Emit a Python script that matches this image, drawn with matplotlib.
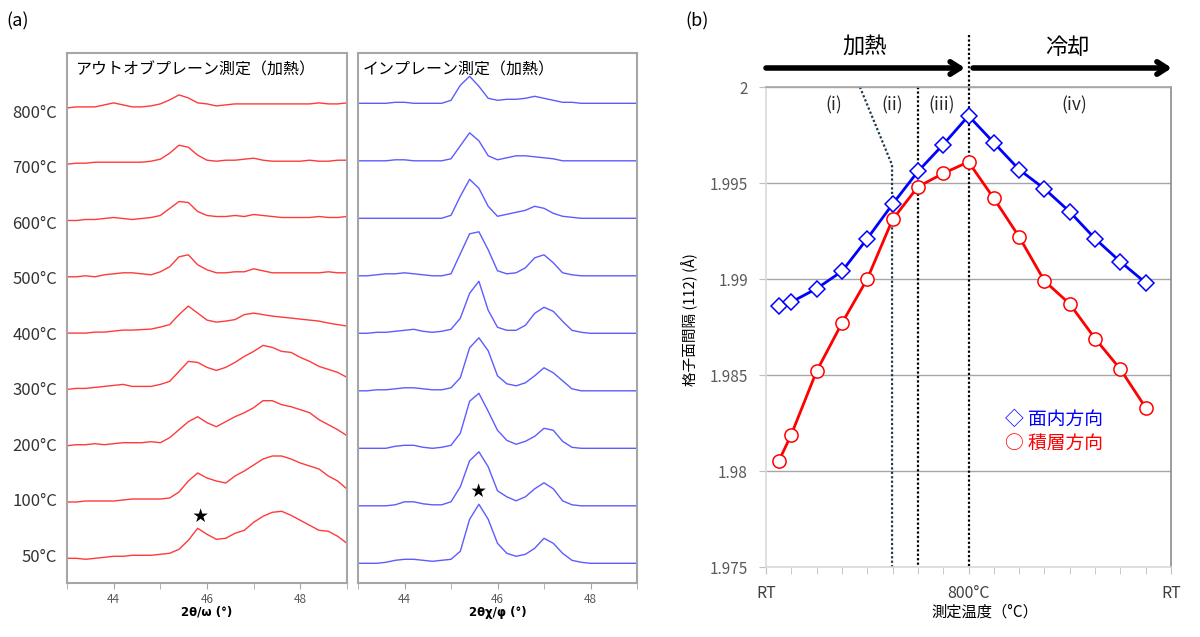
import numpy as np
import matplotlib.pyplot as plt
import matplotlib.transforms as mtrans
from matplotlib.ticker import FixedLocator, MultipleLocator, FuncFormatter

plt.rcParams['font.family'] = ['Noto Sans CJK JP', 'DejaVu Sans']

# ---- (a) XRD traces, heights (a.u.) ----
two_theta = np.round(np.arange(43.0, 49.01, 0.2), 1)
temps = ['50°C', '100°C', '200°C', '300°C', '400°C', '500°C', '600°C', '700°C', '800°C']

# out-of-plane (red)
oop_50 = [0, 0, -1, 0, 1, 2, 2, 3, 3, 3, 4, 5, 9, 18, 30, 24, 19, 20, 25, 28, 36, 42, 46, 47, 43, 38, 33, 28, 27, 22, 15]
oop_100 = [0, 0, 1, 1, 1, 1, 2, 3, 3, 3, 3, 4, 10, 21, 29, 24, 21, 19, 26, 31, 37, 43, 46, 46, 43, 39, 36, 33, 26, 21, 13]
oop_200 = [0, 1, 1, 2, 1, 2, 3, 3, 3, 4, 3, 8, 16, 24, 29, 23, 19, 24, 29, 33, 38, 45, 45, 41, 39, 36, 33, 26, 21, 16, 10]
oop_300 = [0, 1, 1, 2, 3, 4, 5, 3, 3, 3, 5, 8, 18, 28, 27, 22, 19, 22, 27, 33, 38, 44, 42, 38, 37, 32, 28, 23, 20, 17, 12]
oop_400 = [0, 0, 0, 1, 1, 2, 3, 3, 3.5, 4, 6, 8.5, 18.5, 27, 20, 13, 11, 12, 13.5, 18.5, 20, 18.5, 17, 16, 15, 14, 13, 12, 10, 8.5, 7]
oop_500 = [0, 0, 1, 0, 2, 3, 4, 4, 3, 2, 5, 10, 20, 22, 12, 7, 4, 4, 5, 5, 8, 6, 4, 4, 4, 4, 4, 4, 5, 4, 4]
oop_600 = [0, 0, 1, 1, 2, 3, 2, 1, 2, 3, 5, 12, 19, 18, 9, 5, 4, 4, 5, 4, 6, 5, 4, 3, 3, 3, 3, 4, 3, 3, 4]
oop_700 = [0, 1, 1, 2, 2, 2, 2, 2, 2, 3, 5, 11, 19, 17, 9, 4, 3, 4, 4, 5, 6, 4, 3, 3, 3, 3, 4, 3, 3, 4, 4]
oop_800 = [0, 1, 1, 1, 3, 5, 3, 1, 1, 2, 4, 8, 13, 10, 5, 4, 2, 3, 4, 4, 4, 4, 4, 4, 4, 4, 4, 5, 4, 4, 5]

# in-plane (blue)
ip_50 = [0, 0, 0, 1, 3, 4, 4, 3, 2, 3, 4, 12, 44, 59, 44, 20, 10, 7, 9, 15, 25, 20, 10, 3, 1, 0, 0, 0, 0, 0, 0]
ip_100 = [0, 0, 0, 0, 1, 4, 4, 2, 1, 1, 4, 19, 45, 54, 39, 15, 9, 5, 9, 17, 23, 17, 5, 1, 0, 0, 0, 0, 0, 0, 0]
ip_200 = [0, 0, 0, 0, 2, 3, 3, 1, 0, 1, 3, 15, 47, 55, 37, 18, 8, 4, 7, 12, 20, 18, 7, 1, 0, 0, 0, 0, 0, 0, 0]
ip_300 = [0, 0, 1, 1, 2, 3, 3, 2, 1, 1, 3, 13, 43, 53, 40, 15, 7, 5, 8, 15, 23, 18, 10, 2, 0, 0, 0, 0, 0, 0, 0]
ip_400 = [0, 0, 1, 1, 2, 3, 4, 2, 1, 2, 4, 15, 40, 52, 23, 6, 3, 3, 8, 20, 26, 22, 12, 3, 1, 0, 0, 0, 0, 0, 0]
ip_500 = [0, 0, 1, 2, 2, 3, 2, 1, 0, 0, 2, 22, 42, 44, 26, 5, 2, 3, 8, 18, 21, 13, 3, 1, 0, 0, 0, 0, 0, 0, 0]
ip_600 = [0, 0, 0, 0, 0, 0, 0, 0, 0, 0, 3, 22, 39, 30, 12, 2, 4, 6, 8, 12, 10, 5, 2, 1, 0, 0, 0, 0, 0, 0, 0]
ip_700 = [0, 0, 0, 0, 1, 1, 0, 0, 0, 0, 2, 15, 28, 20, 5, 1, 3, 5, 5, 4, 3, 2, 0, 0, 0, 0, 0, 0, 0, 0, 0]
ip_800 = [0, 0, 0, 0, 1, 1, 0, 0, 0, 0, 3, 18, 27, 17, 5, 3, 4, 4, 5, 7, 5, 3, 1, 1, 0, 0, 0, 0, 0, 0, 0]

oop_traces = [oop_50, oop_100, oop_200, oop_300, oop_400, oop_500, oop_600, oop_700, oop_800]
ip_traces = [ip_50, ip_100, ip_200, ip_300, ip_400, ip_500, ip_600, ip_700, ip_800]

# ---- (b) lattice spacing d(112) ----
heat_T = [50, 100, 200, 300, 400, 500, 600, 700, 800]
cool_T = [700, 600, 500, 400, 300, 200, 100]
d_inplane_heat = [1.9886, 1.9888, 1.9895, 1.9904, 1.9921, 1.9939, 1.9956, 1.9970, 1.9985]
d_inplane_cool = [1.9971, 1.9957, 1.9947, 1.9935, 1.9921, 1.9909, 1.9898]
d_stack_heat = [1.9805, 1.9819, 1.9852, 1.9877, 1.9900, 1.9931, 1.9948, 1.9955, 1.9961]
d_stack_cool = [1.9942, 1.9922, 1.9899, 1.9887, 1.9869, 1.9853, 1.9833]

W, H = 1200, 637
fig = plt.figure(figsize=(12, 6.37), dpi=100)

def box(px_l, px_t, px_w, px_h):
    return [px_l / W, 1 - (px_t + px_h) / H, px_w / W, px_h / H]

box_col = '#a6a6a6'

def xrd_panel(ax, traces, step, color, title, xlabel, ylo, yhi):
    for i, h in enumerate(traces):
        ax.plot(two_theta, np.array(h) + i * step, color=color, lw=1.0)
    ax.set_xlim(43, 49)
    ax.set_ylim(ylo, yhi)
    ax.set_yticks([])
    ax.xaxis.set_major_locator(FixedLocator([44, 46, 48]))
    ax.xaxis.set_minor_locator(MultipleLocator(1))
    ax.tick_params(axis='x', which='both', direction='out', length=4, color=box_col,
                   labelsize=8.5, labelcolor='#595959', pad=3)
    for s in ax.spines.values():
        s.set_color(box_col)
        s.set_linewidth(1.5)
    ax.set_xlabel(xlabel, fontsize=8.5, fontweight='bold', labelpad=0, family=['DejaVu Sans'])
    ax.text(0.03, 0.968, title, transform=ax.transAxes, fontsize=11.5, va='center', ha='left')

ax1 = fig.add_axes(box(67, 53, 280, 530))
xrd_panel(ax1, oop_traces, 56.3, '#ff3a3a', 'アウトオブプレーン測定（加熱）', '2θ/ω (°)', -24.7, 505.3)
ax2 = fig.add_axes(box(358, 53, 279, 530))
xrd_panel(ax2, ip_traces, 57.5, '#5c5cff', 'インプレーン測定（加熱）', '2θχ/φ (°)', -19.7, 510.3)
ax2.texts[-1].set_x(0.015)

trans = mtrans.blended_transform_factory(ax1.transAxes, ax1.transData)
for i, t in enumerate(temps):
    ax1.text(-0.035, i * 55.5 + 1, t, transform=trans, ha='right', va='center',
             fontsize=12, color='#333333')

# stars marking the substrate peak
ax1.text(45.86, 41.6, '★', ha='center', va='center', fontsize=11, color='black')
ax2.text(45.59, 71.6, '★', ha='center', va='center', fontsize=11, color='black')

fig.text(18 / W, 1 - 21 / H, '(a)', fontsize=13, ha='center', va='center')
fig.text(697 / W, 1 - 21 / H, '(b)', fontsize=13, ha='center', va='center')

# ---- panel (b) ----
axb = fig.add_axes(box(766, 87, 405, 480))
x_pos = [t / 100 for t in heat_T] + [16 - t / 100 for t in cool_T]
d_in = d_inplane_heat + d_inplane_cool
d_st = d_stack_heat + d_stack_cool

axb.set_xlim(0, 16)
axb.set_ylim(1.975, 2.0)
axb.yaxis.set_major_locator(MultipleLocator(0.005))
axb.yaxis.set_major_formatter(FuncFormatter(lambda v, p: '%g' % round(v, 3)))
axb.grid(axis='y', color='#a6a6a6', lw=1.0, zorder=0)
axb.set_xticks([0, 8, 16])
axb.set_xticklabels(['RT', '800°C', 'RT'])
axb.xaxis.set_minor_locator(MultipleLocator(1))
axb.tick_params(axis='x', which='both', length=5, color='#bfbfbf', labelsize=11.5,
                labelcolor='#404040', pad=8)
axb.tick_params(axis='y', length=5, color='#bfbfbf', labelsize=11, labelcolor='#595959', pad=8)
axb.spines['left'].set_color('#d9d9d9')
axb.spines['bottom'].set_color('#d9d9d9')
axb.spines['right'].set_color('#8c8c8c')
axb.spines['top'].set_color('#a6a6a6')
for s in axb.spines.values():
    s.set_linewidth(1.2)

# phase boundaries
dot = (0, (1, 1))
axb.plot([3.71, 4.98, 4.98], [2.0, 1.99594, 1.975], color='#1f3a4d', lw=1.6, ls=dot, zorder=2)
axb.plot([6.0, 6.0], [2.0, 1.975], color='black', lw=1.6, ls=dot, zorder=2)
axb.plot([8.0, 8.0], [2.0027, 1.975], color='black', lw=1.6, ls=dot, zorder=2, clip_on=False)

axb.plot(x_pos, d_in, color='#0000ff', lw=2, marker='D', ms=8, mfc='white',
         mec='#0000ff', mew=1.1, zorder=3)
axb.plot(x_pos, d_st, color='#ff0000', lw=2, marker='o', ms=9.5, mfc='white',
         mec='#ff0000', mew=1.1, zorder=3)

# arrows and labels
ya = 2.00099
ap = dict(arrowstyle='->,head_length=0.7,head_width=0.45', lw=4, color='black',
          shrinkA=0, shrinkB=0)
axb.annotate('', xy=(7.86, ya), xytext=(0, ya), arrowprops=ap, annotation_clip=False)
axb.annotate('', xy=(16.03, ya), xytext=(8.18, ya), arrowprops=ap, annotation_clip=False)
axb.text(3.91, 2.00208, '加熱', ha='center', va='center', fontsize=16)
axb.text(11.89, 2.00208, '冷却', ha='center', va='center', fontsize=16)

for lbl, xx in [('(i)', 2.69), ('(ii)', 5.0), ('(iii)', 6.94), ('(iv)', 12.17)]:
    axb.text(xx, 1.99906, lbl, ha='center', va='center', fontsize=12.5, color='#262626')

fig.text(1005 / W, 1 - 419 / H, '◇ 面内方向', color='#0000ff', fontsize=13.5, va='center', ha='left')
fig.text(1005 / W, 1 - 443 / H, '○ 積層方向', color='#ff0000', fontsize=13.5, va='center', ha='left')

fig.text(690 / W, 1 - 320 / H, '格子面間隔 (112) (Å)', rotation=90, ha='center', va='center', fontsize=10.5)
fig.text(985 / W, 1 - 612 / H, '測定温度（°C）', ha='center', va='center', fontsize=11)

fig.savefig('out.png', dpi=100)
